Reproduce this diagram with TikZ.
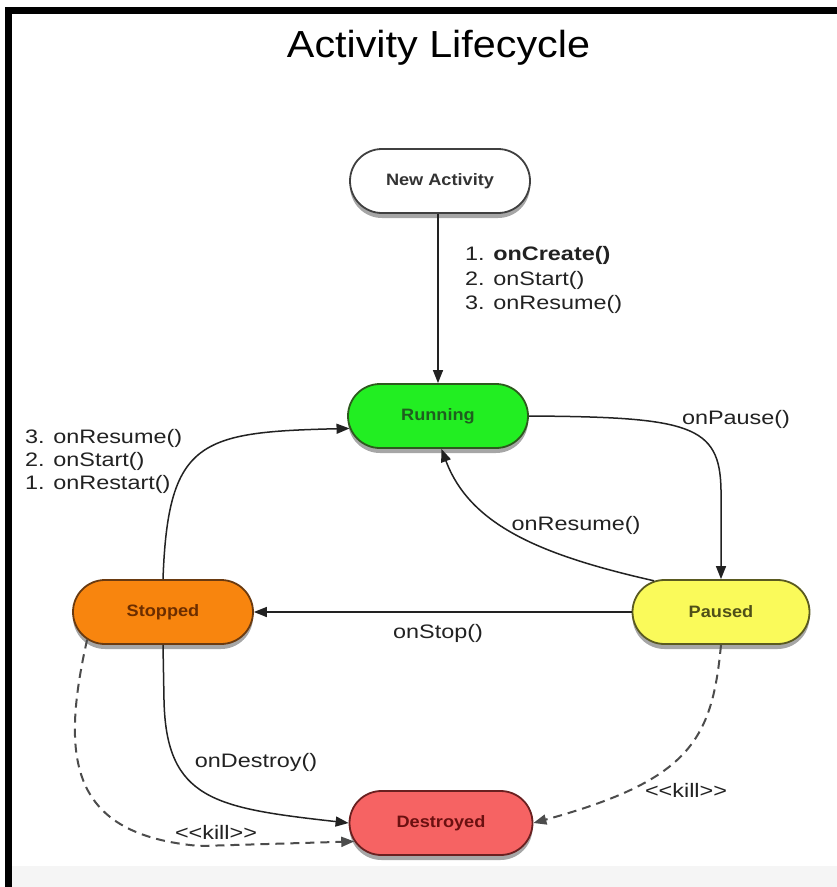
\documentclass[tikz,border=0pt]{standalone}
\usepackage{fontspec}
\setmainfont{Liberation Sans}
\newfontfamily\titlefont[FakeStretch=1.096]{Liberation Sans}
\newfontfamily\lblfont[FakeStretch=1.2]{Liberation Sans}
\newfontfamily\statefont[FakeStretch=1.1]{Liberation Sans}
\usetikzlibrary{shapes.misc,arrows.meta,shadows}
\definecolor{runfill}{HTML}{22EE22}
\definecolor{runline}{HTML}{2D5A1E}
\definecolor{runtext}{HTML}{1F5E1F}
\definecolor{stopfill}{HTML}{F8850E}
\definecolor{stopline}{HTML}{6A3A10}
\definecolor{stoptext}{HTML}{6B2D00}
\definecolor{pausefill}{HTML}{FAFA5A}
\definecolor{pauseline}{HTML}{5A5A20}
\definecolor{pausetext}{HTML}{4F4F18}
\definecolor{destfill}{HTML}{F66363}
\definecolor{destline}{HTML}{6A2020}
\definecolor{desttext}{HTML}{6B1010}
\definecolor{inkc}{HTML}{222222}
\tikzset{
  state/.style={rounded rectangle, minimum width=180pt, minimum height=64pt,
    line width=1.8pt, inner sep=0pt,
    font=\statefont\bfseries\fontsize{16.5}{18}\selectfont,
    drop shadow={shadow xshift=0pt, shadow yshift=-5pt, opacity=.35, fill=black}},
  lbl/.style={font=\lblfont\fontsize{19.5}{23}\selectfont, text=inkc, inner sep=0pt},
  conn/.style={line width=1.5pt, draw=inkc, -{Triangle[length=13pt,width=10pt]}},
  killc/.style={conn, dash pattern=on 9pt off 6pt, line width=2pt, draw=black!70}
}
\begin{document}
\begin{tikzpicture}[x=1pt,y=-1pt]
\useasboundingbox (0,0) rectangle (837,887);
\fill[white] (0,0) rectangle (837,887);
\fill[black!4] (12,866) rectangle (837,887);
\draw[line width=7pt] (8.5,887) -- (8.5,10) -- (837,10);

\node[font=\titlefont\fontsize{37.7}{40}\selectfont, anchor=base] (title) at (438.5,57) {Activity Lifecycle};

\node[state, draw=black!75, fill=white, text=black!80] (new) at (440,181) {New Activity};
\node[state, draw=runline, fill=runfill, text=runtext] (run) at (438,416) {Running};
\node[state, draw=stopline, fill=stopfill, text=stoptext] (stop) at (163,612) {Stopped};
\node[state, draw=pauseline, fill=pausefill, text=pausetext, minimum width=177pt] (pause) at (721,612) {Paused};
\node[state, draw=destline, fill=destfill, text=desttext, minimum width=183pt] (dest) at (441,823) {Destroyed};

% connectors
\draw[conn] (new.south -| run.north) -- (run.north);
\draw[conn] (run.east) .. controls (690,417) and (720,425) .. (721,490) -- (pause.north);
\draw[conn] (pause.155) .. controls (540,555) and (470,525) .. (run.-84);
\draw[conn] (pause.west) -- (stop.east);
\draw[conn] (stop.north) .. controls (168,440) and (200,432) .. (run.188);
\draw[conn] (stop.south) -- (164,700) .. controls (166,800) and (215,808) .. (dest.west);
\draw[killc] (stop.-160) .. controls (60,760) and (70,835) .. (200,846) -- (dest.192);
\draw[killc] (pause.south) .. controls (712,740) and (690,780) .. (dest.east);

% labels
\node[lbl, anchor=base west] (l1) at (465,260) {1. \textbf{onCreate()}};
\node[lbl, anchor=base west] (l2) at (465,285) {2. onStart()};
\node[lbl, anchor=base west] (l3) at (465,309) {3. onResume()};
\node[lbl, anchor=base west] (r3) at (25,443) {3. onResume()};
\node[lbl, anchor=base west] (r2) at (25,466) {2. onStart()};
\node[lbl, anchor=base west] (r1) at (25,489) {1. onRestart()};
\node[lbl] (lpause) at (736,419) {onPause()};
\node[lbl] (lres) at (576,525) {onResume()};
\node[lbl] (lstop) at (438,633) {onStop()};
\node[lbl] (ldest) at (256,762) {onDestroy()};
\node[lbl] (lk1) at (216,832) {<\kern0pt<kill>\kern0pt>};
\node[lbl] (lk2) at (686,790) {<\kern0pt<kill>\kern0pt>};
\end{tikzpicture}
\end{document}
